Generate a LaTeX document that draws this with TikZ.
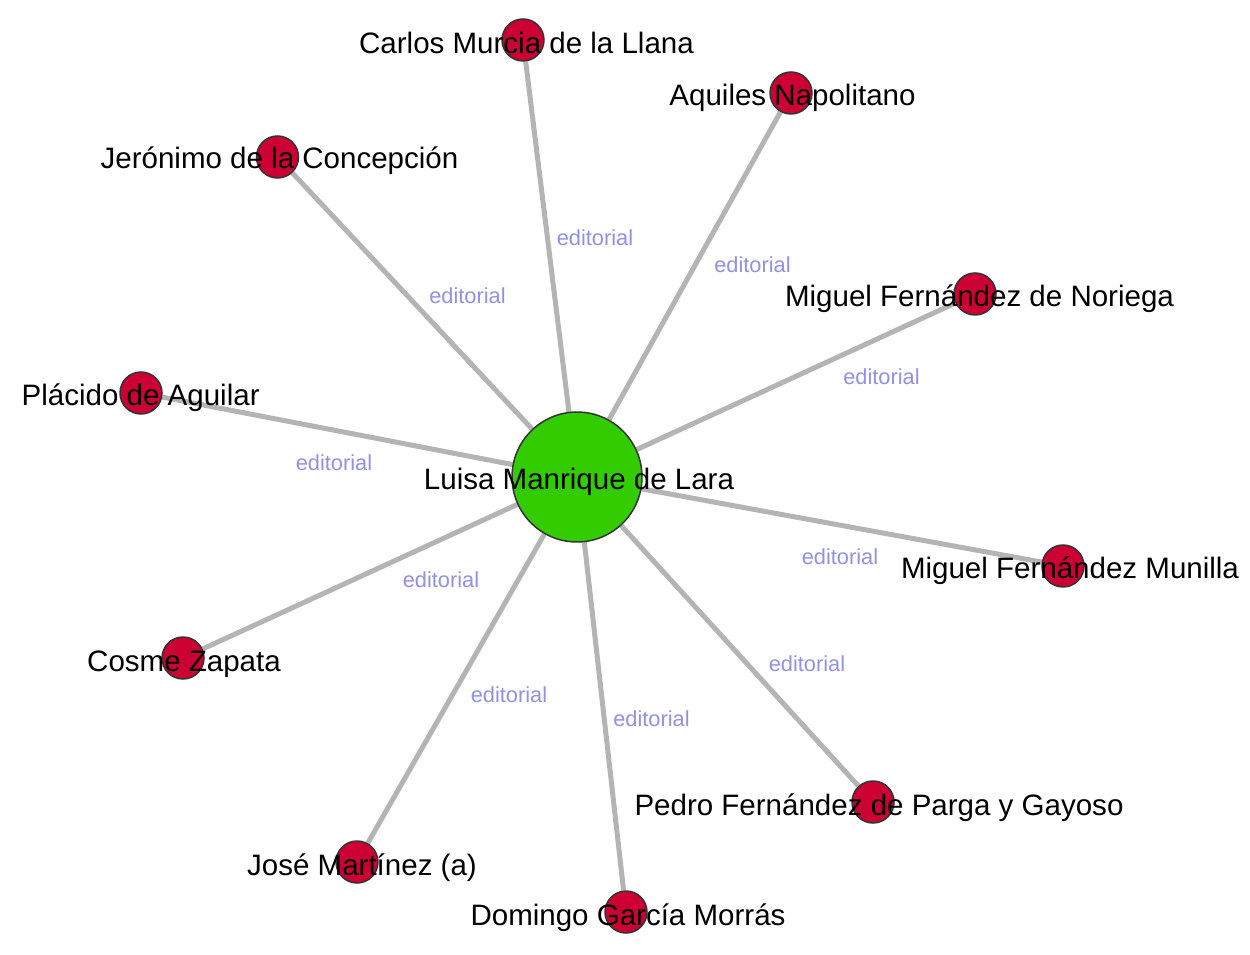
\documentclass[tikz,border=0pt]{standalone}
\usepackage{fontspec}
\setmainfont{Liberation Sans}
\usetikzlibrary{backgrounds}
\definecolor{personred}{RGB}{204,0,51}
\definecolor{hubgreen}{RGB}{51,204,0}
\definecolor{edgegray}{RGB}{180,180,180}
\definecolor{rolelilac}{RGB}{145,145,230}
\definecolor{rimgray}{RGB}{51,51,51}
\tikzset{
	person/.style={circle, draw=rimgray, line width=0.03cm, fill=personred, minimum size=0.84cm, inner sep=0pt},
	hub/.style={person, fill=hubgreen, minimum size=2.6cm},
	personlabel/.style={anchor=base, inner sep=0pt, yshift=-0.04cm, font=\fontsize{16.8}{20}\selectfont},
	rolelabel/.style={anchor=base, inner sep=0pt, yshift=-0.03cm, text=rolelilac, font=\fontsize{12.4}{14}\selectfont},
	link/.style={draw=edgegray, line width=0.1cm}
}
\begin{document}
\begin{tikzpicture}[x=0.02cm, y=-0.02cm]
			%%%%% NODES %%%%%
			\useasboundingbox (0, 0) rectangle (1250, 955);
			
			\node[hub] (luisa) at (577, 477) {};
			
			\node[person] (carlos) at (523, 40) {};
			\node[person] (aquiles) at (791, 93) {};
			\node[person] (jeronimo) at (277.5, 157) {};
			\node[person] (noriega) at (975, 294) {};
			\node[person] (placido) at (141, 393) {};
			\node[person] (munilla) at (1063, 566) {};
			\node[person] (cosme) at (183, 658) {};
			\node[person] (pedro) at (873, 802) {};
			\node[person] (jose) at (357, 862) {};
			\node[person] (domingo) at (626, 912) {};
			
			%%%%% EDGES %%%%%
			\begin{scope}[on background layer]
				\fill[white] (0, 0) rectangle (1250, 955);
				\draw[link] (luisa) -- (carlos);
				\draw[link] (luisa) -- (aquiles);
				\draw[link] (luisa) -- (jeronimo);
				\draw[link] (luisa) -- (noriega);
				\draw[link] (luisa) -- (placido);
				\draw[link] (luisa) -- (munilla);
				\draw[link] (luisa) -- (cosme);
				\draw[link] (luisa) -- (pedro);
				\draw[link] (luisa) -- (jose);
				\draw[link] (luisa) -- (domingo);
			\end{scope}
			
			\node[rolelabel] (carlosrole) at (595, 244) {editorial};
			\node[rolelabel] (aquilesrole) at (752.5, 271) {editorial};
			\node[rolelabel] (jeronimorole) at (467.5, 302) {editorial};
			\node[rolelabel] (noriegarole) at (881.5, 383) {editorial};
			\node[rolelabel] (placidorole) at (334, 469) {editorial};
			\node[rolelabel] (munillarole) at (840, 563) {editorial};
			\node[rolelabel] (cosmerole) at (441, 586) {editorial};
			\node[rolelabel] (pedrorole) at (807, 670) {editorial};
			\node[rolelabel] (joserole) at (509, 701) {editorial};
			\node[rolelabel] (domingorole) at (651.5, 725) {editorial};
			
			%%%%% NAMES %%%%%
			\node[personlabel] (luisaname) at (579, 488) {Luisa Manrique de Lara};
			\node[personlabel] (carlosname) at (526.5, 52) {Carlos Murcia de la Llana};
			\node[personlabel] (aquilesname) at (792.5, 104) {Aquiles Napolitano};
			\node[personlabel] (jeronimoname) at (279.5, 167) {Jerónimo de la Concepción};
			\node[personlabel] (norieganame) at (979.5, 305) {Miguel Fernández de Noriega};
			\node[personlabel] (placidoname) at (140.7, 404) {Plácido de Aguilar};
			\node[personlabel] (munillaname) at (1070, 577) {Miguel Fernández Munilla};
			\node[personlabel] (cosmename) at (184, 669) {Cosme Zapata};
			\node[personlabel] (pedroname) at (879, 813) {Pedro Fernández de Parga y Gayoso};
			\node[personlabel] (josename) at (362, 873) {José Martínez (a)};
			\node[personlabel] (domingoname) at (628, 923) {Domingo García Morrás};
\end{tikzpicture}
\end{document}
